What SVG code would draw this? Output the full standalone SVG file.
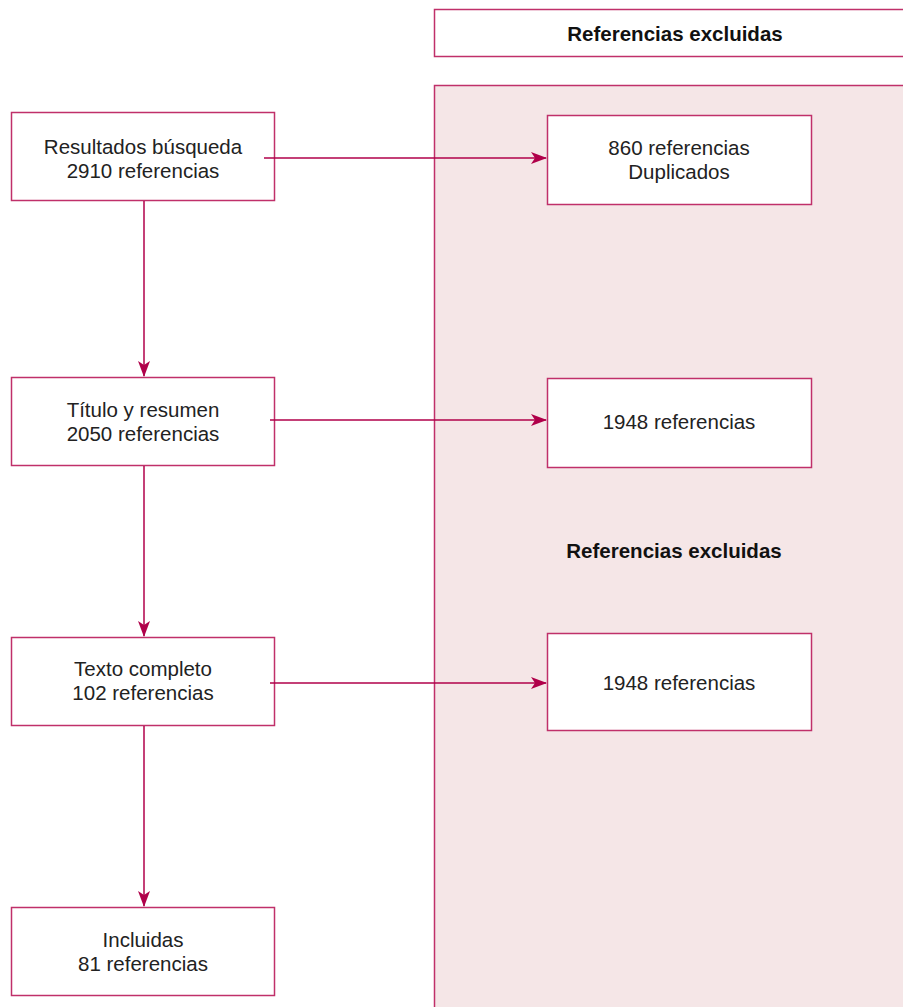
<svg xmlns="http://www.w3.org/2000/svg" width="903" height="1007" viewBox="0 0 903 1007">
<style>
.box{fill:#fff;stroke:#c0306a;stroke-width:1.5}
.rbox{fill:#f5e6e7;stroke:#c0306a;stroke-width:1.5}
.t{font-family:"Liberation Sans",Arial,sans-serif;font-size:20.5px;fill:#222;text-anchor:middle}
.b{font-weight:bold;font-size:20.5px;fill:#111}
.c{stroke:#b0004a;stroke-width:1.5;fill:none}
</style>
<defs>
<marker id="ah" markerWidth="16" markerHeight="12" refX="15" refY="6" orient="auto" markerUnits="userSpaceOnUse">
<path d="M0,0 L16,6 L0,12 L4,6 Z" fill="#b0004a"/>
</marker>
</defs>
<rect width="903" height="1007" fill="#fff"/>
<g id="header"><rect class="box" x="434.5" y="9.5" width="475" height="47"/><text class="t b" x="675" y="41">Referencias excluidas</text></g>
<g id="panel"><rect class="rbox" x="434.5" y="85.5" width="475" height="930"/><text class="t b" x="674" y="558">Referencias excluidas</text></g>
<g id="n1"><rect class="box" x="11.5" y="112.5" width="263" height="88"/><text class="t" x="143" y="154">Resultados búsqueda</text><text class="t" x="143" y="178">2910 referencias</text></g>
<g id="n2"><rect class="box" x="11.5" y="377.5" width="263" height="88"/><text class="t" x="143" y="417">Título y resumen</text><text class="t" x="143" y="441">2050 referencias</text></g>
<g id="n3"><rect class="box" x="11.5" y="637.5" width="263" height="88"/><text class="t" x="143" y="676">Texto completo</text><text class="t" x="143" y="700">102 referencias</text></g>
<g id="n4"><rect class="box" x="11.5" y="907.5" width="263" height="88"/><text class="t" x="143" y="947">Incluidas</text><text class="t" x="143" y="971">81 referencias</text></g>
<g id="e1"><rect class="box" x="547.5" y="115.5" width="264" height="89"/><text class="t" x="679" y="155">860 referencias</text><text class="t" x="679" y="179">Duplicados</text></g>
<g id="e2"><rect class="box" x="547.5" y="378.5" width="264" height="89"/><text class="t" x="679" y="429">1948 referencias</text></g>
<g id="e3"><rect class="box" x="547.5" y="633.5" width="264" height="97"/><text class="t" x="679" y="690">1948 referencias</text></g>
<g id="connectors">
<line class="c" x1="264" y1="158" x2="546" y2="158" marker-end="url(#ah)"/>
<line class="c" x1="270" y1="420" x2="546" y2="420" marker-end="url(#ah)"/>
<line class="c" x1="270" y1="683" x2="546" y2="683" marker-end="url(#ah)"/>
<line class="c" x1="144" y1="201" x2="144" y2="376" marker-end="url(#ah)"/>
<line class="c" x1="144" y1="466" x2="144" y2="636" marker-end="url(#ah)"/>
<line class="c" x1="144" y1="726" x2="144" y2="906" marker-end="url(#ah)"/>
</g>
</svg>
